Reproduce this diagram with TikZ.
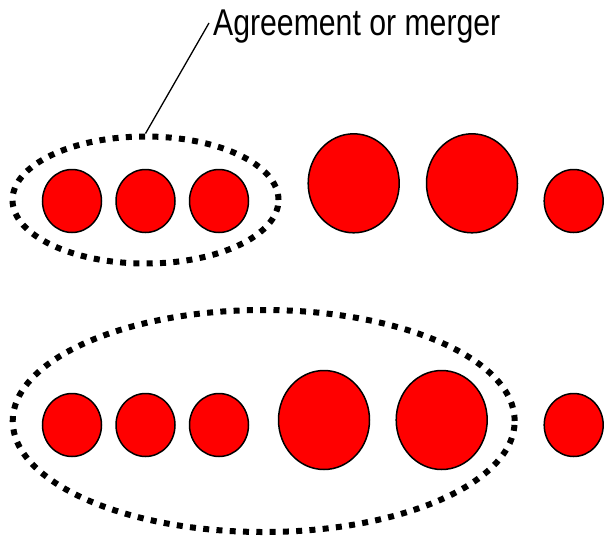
\documentclass[tikz,border=0pt]{standalone}
\usepackage{fontspec}
\setmainfont{Liberation Sans}
\usetikzlibrary{shapes.geometric}
\begin{document}
\begin{tikzpicture}[x=1pt,y=-1pt,
  firm/.style={ellipse,draw=black,line width=1.5pt,fill=red,inner sep=0pt,minimum width=59pt,minimum height=63pt},
  bigfirm/.style={ellipse,draw=black,line width=1.5pt,fill=red,inner sep=0pt,minimum width=91pt,minimum height=99pt},
  grp/.style={ellipse,draw=black,line width=6pt,dash pattern=on 6pt off 7.3pt,inner sep=0pt},
  lbl/.style={font=\fontsize{37.3}{40}\selectfont,xscale=0.81,inner sep=0pt,anchor=base west}]
\useasboundingbox (0,0) rectangle (604,538);
% top row
\node[grp,minimum width=266pt,minimum height=127pt] (g1) at (145.5,200) {};
\node[firm] (a1) at (72,201) {};
\node[firm] (a2) at (145.5,201) {};
\node[firm] (a3) at (219,201) {};
\node[bigfirm] (a4) at (353.7,183.3) {};
\node[bigfirm] (a5) at (472,183.3) {};
\node[firm] (a6) at (573.7,201) {};
% label
\node[lbl] (t) at (213,35) {Agreement or merger};
\coordinate (tl) at (209,23);
\draw[line width=1.3pt] (tl) -- (g1.north);
% bottom row
\node[grp,minimum width=502pt,minimum height=222pt] (g2) at (263.7,421) {};
\node[firm] (b1) at (72,425) {};
\node[firm] (b2) at (145.5,425) {};
\node[firm] (b3) at (219,425) {};
\node[bigfirm] (b4) at (324,420) {};
\node[bigfirm] (b5) at (441.7,420) {};
\node[firm] (b6) at (573.7,425) {};
\end{tikzpicture}
\end{document}
